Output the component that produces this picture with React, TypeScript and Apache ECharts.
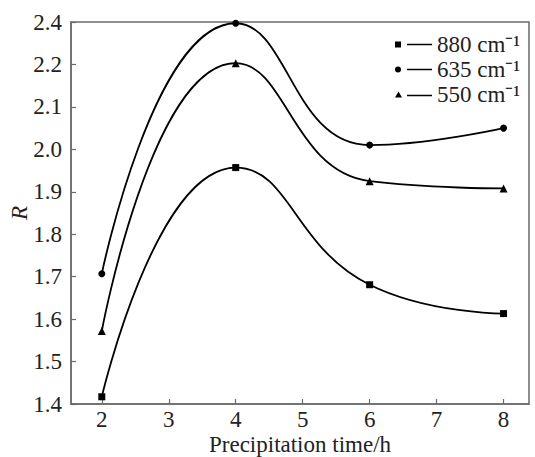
import React, { useEffect, useRef } from "react";
import * as echarts from "echarts";

const xValues = [2, 4, 6, 8];
const r880 = [1.417, 1.957, 1.681, 1.613];
const r635 = [1.707, 2.297, 2.01, 2.05];
const r550 = [1.572, 2.203, 1.925, 1.908];
const seriesNames = ["880 cm⁻¹", "635 cm⁻¹", "550 cm⁻¹"];
const xTickValues = [2, 3, 4, 5, 6, 7, 8];

const FONT = "'Liberation Serif', 'Times New Roman', serif";
const AXIS_COLOR = "#6b6b6b";
const FS = 23;

const pair = (ys: number[]) => xValues.map((x, i) => [x, ys[i]]);

const iconSquare = "path://M0,0h6v6h-6z M12,2.3h25v1.4h-25z";
const iconCircle = "path://M0,3a3,3 0 1,0 6,0a3,3 0 1,0 -6,0z M12,2.3h25v1.4h-25z";
const iconTri = "path://M0,6L3.5,0L7,6z M12,3.3h25v1.4h-25z";

export default function App() {
  const ref = useRef<HTMLDivElement>(null);
  useEffect(() => {
    if (!ref.current) return;
    const chart = echarts.init(ref.current, undefined, { renderer: "svg" });
    const mkSeries = (name: string, ys: number[], symbol: string, size: number) => ({
      name,
      type: "line",
      data: pair(ys),
      smooth: 0.5,
      symbol,
      symbolSize: size,
      lineStyle: { color: "#000", width: 1.8 },
      itemStyle: { color: "#000" },
    });
    chart.setOption({
      animation: false,
      backgroundColor: "#fff",
      grid: {
        left: 71,
        right: 6,
        top: 22,
        bottom: 53,
        outerBoundsMode: "none",
        containLabel: false,
        show: true,
        borderColor: AXIS_COLOR,
        borderWidth: 1.5,
        backgroundColor: "transparent",
      },
      legend: {
        orient: "vertical",
        left: 390,
        top: 27,
        itemWidth: 37,
        itemHeight: 6,
        itemGap: 0,
        textStyle: { fontFamily: FONT, fontSize: FS, color: "#222", lineHeight: 25 },
        data: [
          { name: seriesNames[0], icon: iconSquare },
          { name: seriesNames[1], icon: iconCircle },
          { name: seriesNames[2], icon: iconTri },
        ],
      },
      xAxis: {
        type: "value",
        min: 1.54,
        max: 8.38,
        name: "Precipitation time/h",
        nameLocation: "middle",
        nameGap: 29,
        nameMoveOverlap: false,
        nameTextStyle: { fontFamily: FONT, fontSize: FS, color: "#222", lineHeight: 23 },
        axisLine: { show: true, lineStyle: { color: AXIS_COLOR, width: 1.5 } },
        axisTick: {
          show: true,
          inside: true,
          length: 5,
          customValues: xTickValues,
          lineStyle: { color: AXIS_COLOR, width: 1.2 },
        },
        axisLabel: {
          customValues: xTickValues,
          fontFamily: FONT,
          fontSize: FS,
          lineHeight: 23,
          color: "#222",
          margin: 4,
        },
        splitLine: { show: false },
      },
      yAxis: {
        type: "value",
        min: 1.4,
        max: 2.3,
        interval: 0.1,
        name: "R",
        nameLocation: "middle",
        nameGap: 40,
        nameMoveOverlap: false,
        nameTextStyle: { fontFamily: FONT, fontSize: FS, color: "#222", fontStyle: "italic" },
        axisLine: { show: true, lineStyle: { color: AXIS_COLOR, width: 1.5 } },
        axisTick: { show: true, inside: true, length: 5, lineStyle: { color: AXIS_COLOR, width: 1.2 } },
        axisLabel: {
          fontFamily: FONT,
          fontSize: FS,
          color: "#222",
          margin: 9,
          formatter: (v: number) => (Math.abs(v - 2.3) < 1e-6 ? "2.4" : v.toFixed(1)),
        },
        splitLine: { show: false },
      },
      series: [
        mkSeries(seriesNames[0], r880, "rect", 7),
        mkSeries(seriesNames[1], r635, "circle", 7),
        mkSeries(seriesNames[2], r550, "triangle", 8),
      ],
    });
    return () => chart.dispose();
  }, []);
  return (
    <div
      ref={ref}
      style={{ position: "absolute", left: 0, top: 0, width: 535, height: 457 }}
    />
  );
}
